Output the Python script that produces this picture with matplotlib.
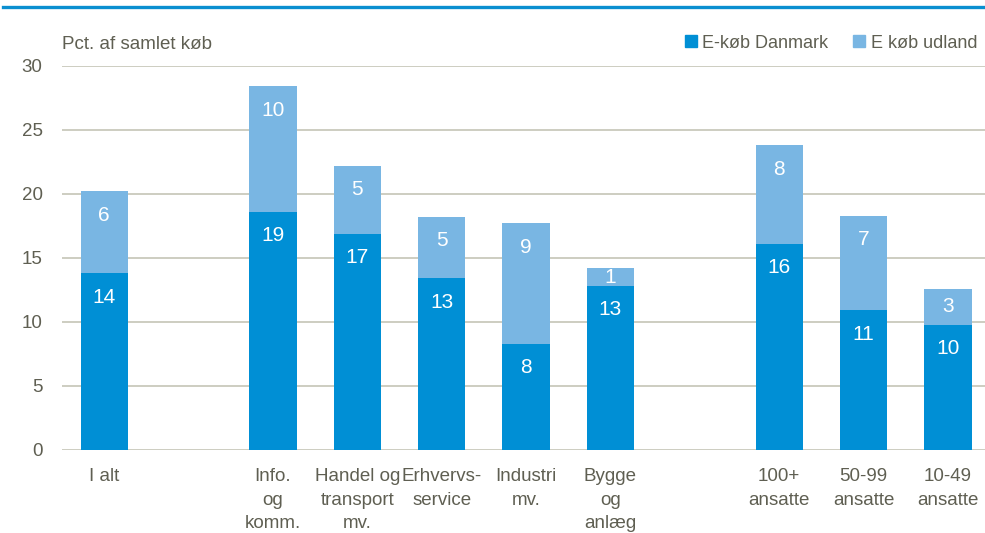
#!/usr/bin/env python3
"""E-køb andel af samlet køb, stablede søjler (Danmark / udland)."""

import matplotlib

matplotlib.use("Agg")
import matplotlib.pyplot as plt
from matplotlib.lines import Line2D
from matplotlib.patches import Patch

plt.rcParams["font.family"] = ["Liberation Sans", "DejaVu Sans"]

# slots: 9 bars + 2 empty gaps (None)
categories = [
    "I alt", None,
    "Info.\nog\nkomm.", "Handel og\ntransport\nmv.", "Erhvervs-\nservice",
    "Industri\nmv.", "Bygge\nog\nanlæg", None,
    "100+\nansatte", "50-99\nansatte", "10-49\nansatte",
]
ekob_dk = [13.8, 18.6, 16.9, 13.4, 8.3, 12.8, 16.1, 10.9, 9.8]
ekob_udl = [6.4, 9.8, 5.3, 4.8, 9.4, 1.4, 7.7, 7.4, 2.8]
yticks = [0, 5, 10, 15, 20, 25, 30]

DK_COL = "#008fd5"
UDL_COL = "#79b6e3"
TXT = "#5f5f52"
GRID = "#c9c9bc"

fig = plt.figure(figsize=(9.85, 5.33), dpi=100)
ax = fig.add_axes([62 / 985, 83 / 533, 1 - 62 / 985, 384 / 533])

pos = [i for i, c in enumerate(categories) if c is not None]
labels = [c for c in categories if c is not None]
w = 0.56

b1 = ax.bar(pos, ekob_dk, width=w, color=DK_COL, zorder=3)
b2 = ax.bar(pos, ekob_udl, width=w, bottom=ekob_dk, color=UDL_COL, zorder=3)


def seg_label(x, lo, h, patch):
    # inside end, but never above the middle of a short segment
    y = max(lo + h - 1.85, lo + h / 2)
    t = ax.text(x, y, f"{h:.0f}", ha="center", va="center",
                color="white", fontsize=15, zorder=4)
    t.set_clip_path(patch)


for x, d, u, p1, p2 in zip(pos, ekob_dk, ekob_udl, b1.patches, b2.patches):
    seg_label(x, 0, d, p1)
    seg_label(x, d, u, p2)

ax.set_xlim(-0.5, 10.44)
ax.set_ylim(0, 30)
ax.set_yticks(yticks)
ax.set_xticks(pos)
ax.set_xticklabels(labels, linespacing=1.5)
ax.tick_params(axis="y", length=0, pad=14, labelsize=13.5, labelcolor=TXT)
ax.tick_params(axis="x", length=0, pad=13, labelsize=13.5, labelcolor=TXT)
ax.grid(axis="y", color=GRID, lw=1.3, zorder=0)
for s in ax.spines.values():
    s.set_visible(False)

fig.text(62 / 985, 1 - 45 / 533, "Pct. af samlet køb", ha="left", va="center",
         color=TXT, fontsize=13.5)

handles = [Patch(color=DK_COL, label="E-køb Danmark"),
           Patch(color=UDL_COL, label="E køb udland")]
fig.legend(handles=handles, loc="center right", bbox_to_anchor=(977 / 985, 1 - 43 / 533),
           ncol=2, frameon=False, handlelength=0.65, handleheight=0.65,
           handletextpad=0.3, columnspacing=1.4, fontsize=13, labelcolor=TXT,
           borderaxespad=0, borderpad=0)

# blue rule across the top
fig.add_artist(Line2D([3 / 985, 1], [1 - 7 / 533, 1 - 7 / 533],
                      transform=fig.transFigure, color="#0a8fd0", lw=2.4))

fig.savefig("out.png", dpi=100)
